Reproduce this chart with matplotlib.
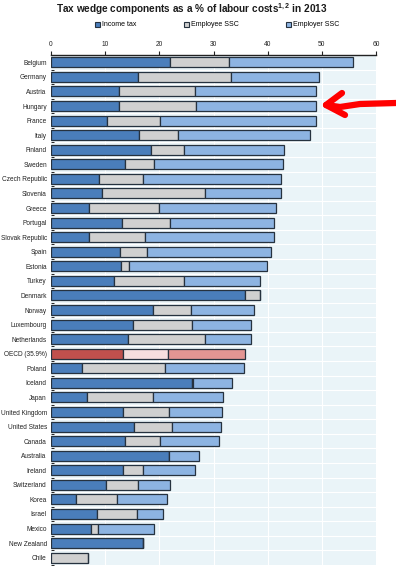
import matplotlib.pyplot as plt
from matplotlib.patches import Patch

countries = ["Belgium", "Germany", "Austria", "Hungary", "France", "Italy", "Finland",
             "Sweden", "Czech Republic", "Slovenia", "Greece", "Portugal",
             "Slovak Republic", "Spain", "Estonia", "Turkey", "Denmark", "Norway",
             "Luxembourg", "Netherlands", "OECD (35.9%)", "Poland", "Iceland", "Japan",
             "United Kingdom", "United States", "Canada", "Australia", "Ireland",
             "Switzerland", "Korea", "Israel", "Mexico", "New Zealand", "Chile"]
income_tax = [22.0, 16.0, 12.6, 12.5, 10.3, 16.2, 18.5, 13.7, 8.8, 9.4, 7.0, 13.1,
              7.1, 12.7, 13.0, 11.6, 35.9, 18.9, 15.1, 14.3, 13.2, 5.8, 26.0, 6.7,
              13.3, 15.4, 13.7, 21.8, 13.3, 10.2, 4.6, 8.4, 7.4, 16.9, 0.0]
employee_ssc = [10.8, 17.2, 13.9, 14.3, 9.9, 7.2, 6.0, 5.3, 8.2, 19.1, 12.9, 8.9,
                10.2, 5.0, 1.4, 12.9, 2.6, 6.9, 10.9, 14.2, 8.4, 15.3, 0.3, 12.2,
                8.5, 7.0, 6.5, 0.0, 3.6, 5.9, 7.5, 7.4, 1.2, 0.0, 6.9]
employer_ssc = [23.0, 16.2, 22.5, 22.2, 28.7, 24.5, 18.6, 23.9, 25.4, 13.9, 21.7, 19.2,
                23.9, 23.0, 25.5, 14.1, 0.0, 11.6, 11.0, 8.5, 14.3, 14.5, 7.2, 12.8,
                9.7, 9.0, 10.9, 5.6, 9.7, 5.8, 9.3, 4.9, 10.5, 0.0, 0.0]
series_labels = ["Income tax", "Employee SSC", "Employer SSC"]

blue_cols = ["#4a7ebb", "#d0d0d0", "#8db4e2"]
red_cols = ["#c0504d", "#f6dede", "#e39593"]

plt.rcParams['font.family'] = ['Liberation Sans', 'DejaVu Sans']
plt.rcParams['mathtext.fontset'] = 'custom'
plt.rcParams['mathtext.rm'] = 'Liberation Sans:bold'
plt.rcParams['mathtext.it'] = 'Liberation Sans:bold'
fig = plt.figure(figsize=(3.96, 5.70), dpi=100)
ax = fig.add_axes([51 / 396, 1 - 565 / 570, 325 / 396, 510 / 570])
ax.set_facecolor("#eaf4f8")

y = list(range(len(countries)))
left = [0.0] * len(countries)
for vals, k in zip([income_tax, employee_ssc, employer_ssc], range(3)):
    cols = [red_cols[k] if c.startswith("OECD") else blue_cols[k] for c in countries]
    ax.barh(y, vals, left=left, height=0.68, color=cols, edgecolor="#26323f",
            linewidth=0.9, zorder=3)
    left = [a + b for a, b in zip(left, vals)]

ax.set_xlim(0, 60)
ax.set_ylim(len(countries) - 0.5, -0.5)
ax.xaxis.tick_top()
ax.set_xticks(range(0, 61, 10))
ax.tick_params(axis="x", labelsize=4.8, length=3, width=0.8, pad=2, colors="#222222")
ax.set_yticks(y)
ax.set_yticklabels(countries, fontsize=4.7, color="#222222")
ax.tick_params(axis="y", length=0, pad=3)
# small ticks between rows
ax.set_yticks([i + 0.5 for i in y], minor=True)
ax.tick_params(axis="y", which="minor", length=2, width=0.6, direction="in")

for xv in range(10, 60, 10):
    ax.axvline(xv, color="white", linewidth=0.8, zorder=1)
for yv in y[:-1]:
    ax.axhline(yv + 0.5, color="white", linewidth=0.8, zorder=1)

for s in ["left", "right", "bottom"]:
    ax.spines[s].set_visible(False)
ax.spines["top"].set_linewidth(1.0)
ax.spines["top"].set_color("#222222")

fig.text(0.485, 1 - 9 / 570, "Tax wedge components as a % of labour costs$^{1,2}$ in 2013",
         ha="center", va="center", fontsize=7.2, fontweight="bold", color="#1a1a1a")

handles = [Patch(facecolor=c, edgecolor="#26323f", linewidth=0.8) for c in blue_cols]
fig.legend(handles, series_labels, loc="center", bbox_to_anchor=(0.548, 1 - 25 / 570),
           ncol=3, frameon=False, fontsize=5.0, handlelength=0.7, handleheight=0.7,
           handletextpad=0.3, columnspacing=6.8)

# red arrow pointing at Austria / Hungary
fig.lines.append(plt.Line2D([396 / 396, 360 / 396, 340 / 396, 326 / 396],
                            [1 - 103 / 570, 1 - 104 / 570, 1 - 107 / 570, 1 - 105 / 570],
                            transform=fig.transFigure, color="#ff0000", linewidth=4.5,
                            solid_capstyle="round", solid_joinstyle="round"))
fig.lines.append(plt.Line2D([342 / 396, 326 / 396, 345 / 396],
                            [1 - 93 / 570, 1 - 105 / 570, 1 - 115 / 570],
                            transform=fig.transFigure, color="#ff0000", linewidth=4.5,
                            solid_capstyle="round", solid_joinstyle="round"))

fig.savefig("out.png", dpi=100, facecolor="white")
